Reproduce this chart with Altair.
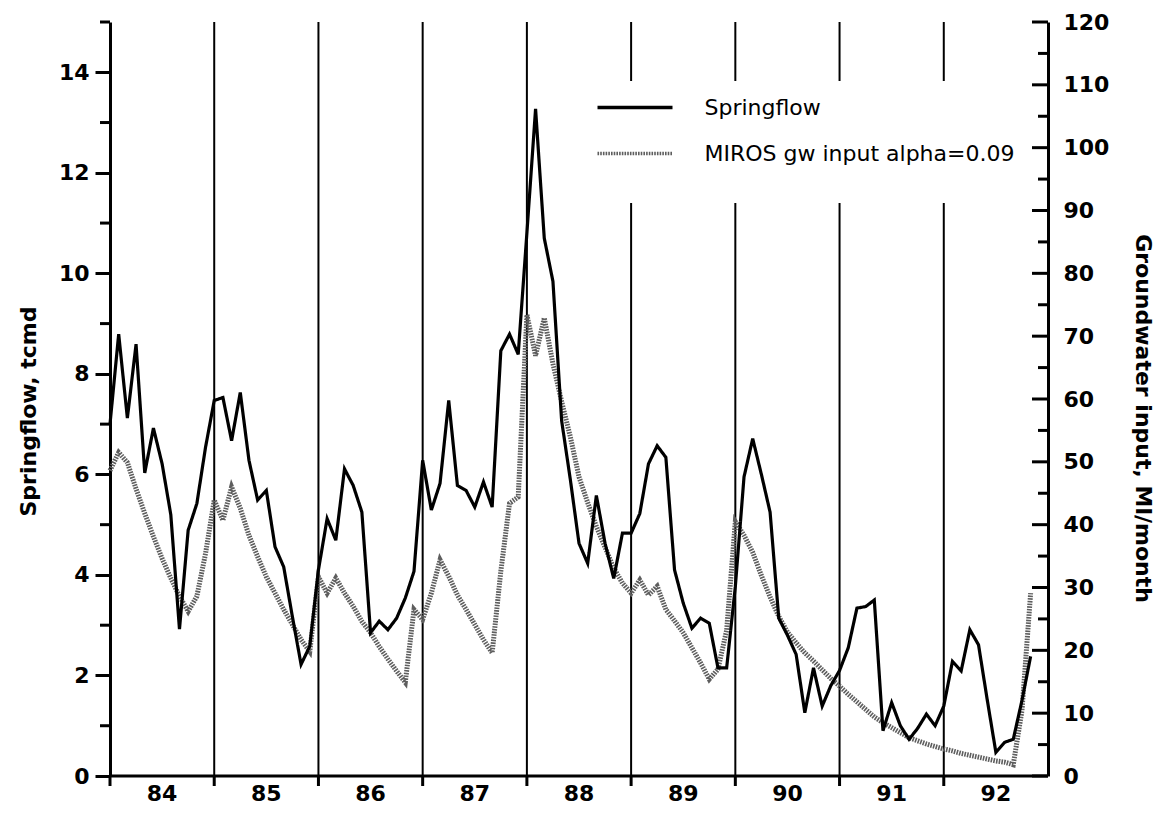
import altair as alt
import pandas as pd

W, H = 938, 754

# ---- data (monthly, Jan 1984 onwards) ----
springflow = [
    7.0, 8.79, 7.12, 8.59, 6.03, 6.92, 6.21, 5.2, 2.92, 4.89, 5.42, 6.54,
    7.47, 7.53, 6.67, 7.63, 6.28, 5.49, 5.68, 4.56, 4.16, 3.17, 2.22, 2.58,
    4.10, 5.12, 4.69, 6.11, 5.78, 5.25, 2.85, 3.08, 2.91, 3.14, 3.54, 4.07,
    6.28, 5.29, 5.82, 7.47, 5.78, 5.68, 5.35, 5.85, 5.35, 8.46, 8.79, 8.39,
    10.8, 13.27, 10.7, 9.84, 7.07, 5.9, 4.63, 4.23, 5.58, 4.63, 3.93, 4.83,
    4.83, 5.22, 6.21, 6.57, 6.34, 4.10, 3.44, 2.94, 3.14, 3.04, 2.15, 2.15,
    3.77, 5.95, 6.71, 6.0, 5.25, 3.14, 2.8, 2.42, 1.26, 2.15, 1.39, 1.8,
    2.1, 2.55, 3.34, 3.37, 3.50, 0.90, 1.46, 1.0, 0.73, 0.95, 1.23, 1.0,
    1.39, 2.28, 2.09, 2.91, 2.61, 1.52, 0.47, 0.67, 0.73, 1.5, 2.38,
]
miros = [
    48.6, 51.5, 49.9, 45.7, 41.8, 38.1, 34.6, 31.5, 28.6, 26.2, 28.6, 35.4,
    43.9, 40.7, 46.0, 42.6, 38.3, 34.9, 31.7, 29.1, 26.5, 24.1, 21.7, 19.8,
    31.7, 29.1, 31.5, 29.1, 27.0, 24.6, 22.8, 20.6, 18.6, 16.7, 14.9, 26.5,
    24.9, 29.1, 34.4, 31.8, 28.8, 26.5, 24.1, 21.7, 19.6, 32.6, 43.4, 44.4,
    73.4, 66.9, 72.9, 65.6, 59.6, 54.0, 47.6, 43.5, 39.7, 36.4, 33.1, 30.7,
    29.1, 31.2, 28.8, 30.2, 26.5, 24.7, 22.8, 20.4, 18.0, 15.4, 17.0, 23.2,
    40.5, 38.3, 35.6, 31.9, 28.5, 25.4, 22.9, 21.2, 19.6, 18.3, 16.9, 15.5,
    14.3, 13.0, 11.8, 10.6, 9.4, 8.5, 7.7, 6.9, 6.1, 5.6, 5.1, 4.7,
    4.3, 4.0, 3.6, 3.3, 3.0, 2.7, 2.4, 2.2, 1.8, 10.4, 29.1,
]
series_names = ["Springflow", "MIROS gw input alpha=0.09"]
year_labels = ["84", "85", "86", "87", "88", "89", "90", "91", "92"]
year_starts = [12 * k for k in range(len(year_labels))]
left_major = [0, 2, 4, 6, 8, 10, 12, 14]
left_minor = [1, 3, 5, 7, 9, 11, 13, 15]
right_major = [0, 10, 20, 30, 40, 50, 60, 70, 80, 90, 100, 110, 120]
right_minor = [5, 15, 25, 35, 45, 55, 65, 75, 85, 95, 105, 115]

df_s = pd.DataFrame({"month": list(range(len(springflow))), "value": springflow,
                     "series": series_names[0]})
df_m = pd.DataFrame({"month": list(range(len(miros))), "value": miros,
                     "series": series_names[1]})
df_years = pd.DataFrame({"m": year_starts, "label": year_labels})

FONT = "DejaVu Sans"

xscale = alt.Scale(domain=[0, 108], nice=False, zero=False)
lscale = alt.Scale(domain=[0, 15], nice=False, zero=True)
rscale = alt.Scale(domain=[0, 120], nice=False, zero=True)

legend = alt.Legend(orient="none", legendX=475, legendY=59,
                    title=".", titleColor="white", titleOrient="bottom",
                    titleFontSize=18, titlePadding=8,
                    fillColor="white", padding=12,
                    symbolType="M-3,0H3", symbolSize=625, symbolStrokeWidth=3.5,
                    symbolOffset=23.5, labelOffset=55, rowPadding=20,
                    labelFont=FONT, labelFontSize=22, labelFontWeight="normal",
                    labelLimit=0, labelColor="black")
color = alt.Color("series:N", scale=alt.Scale(domain=series_names, range=["black", "#5e5e5e"]),
                  legend=legend)
dash = alt.StrokeDash("series:N", scale=alt.Scale(domain=series_names, range=[[1, 0], [1.6, 1.1]]),
                      legend=legend)

# vertical year boundary lines
year_rules = alt.Chart(df_years[df_years.m > 0]).mark_rule(
    color="black", strokeWidth=2).encode(
    x=alt.X("m:Q", scale=xscale, axis=None))

# x-axis tick marks (below the axis) at the year boundaries
x_ticks = alt.Chart(df_years).mark_rule(color="black", strokeWidth=3).encode(
    x=alt.X("m:Q", scale=xscale, axis=None),
    y=alt.value(H), y2=alt.value(H + 10))

# year labels, centred within each year
x_labels = alt.Chart(df_years).transform_calculate(
    mid="datum.m + 6").mark_text(
    font=FONT, fontWeight="bold", fontSize=22, baseline="top", color="black").encode(
    x=alt.X("mid:Q", scale=xscale, axis=None),
    y=alt.value(H + 8),
    text="label:N")

# x-axis line
x_line = alt.Chart(pd.DataFrame({"a": [0], "b": [108]})).mark_rule(
    color="black", strokeWidth=3).encode(
    x=alt.X("a:Q", scale=xscale, axis=None), x2="b:Q",
    y=alt.value(H))

# minor ticks on the left axis (outward)
left_minor_ticks = alt.Chart(pd.DataFrame({"v": left_minor})).mark_rule(
    color="black", strokeWidth=3).encode(
    y=alt.Y("v:Q", scale=lscale, axis=None),
    x=alt.value(-10), x2=alt.value(0))

spring_line = alt.Chart(df_s).mark_line(strokeWidth=3.2).encode(
    x=alt.X("month:Q", scale=xscale, axis=None),
    y=alt.Y("value:Q", scale=lscale,
            axis=alt.Axis(orient="left", values=left_major, tickSize=15, tickWidth=3,
                          domainWidth=3, labelPadding=6, grid=False,
                          title="Springflow, tcmd", titlePadding=18, titleFontSize=22,
                          titleY=389)),
    color=color, strokeDash=dash)

miros_line = alt.Chart(df_m).mark_line(strokeWidth=5).encode(
    x=alt.X("month:Q", scale=xscale, axis=None),
    y=alt.Y("value:Q", scale=rscale,
            axis=alt.Axis(orient="right", values=right_major, ticks=False,
                          domainWidth=3, labelPadding=15, grid=False,
                          title="Groundwater input, Ml/month", titlePadding=22,
                          titleY=396)),
    color=color, strokeDash=dash)

# ticks on the right axis (pointing into the plot)
right_major_ticks = alt.Chart(pd.DataFrame({"v": right_major})).mark_rule(
    color="black", strokeWidth=3).encode(
    y=alt.Y("v:Q", scale=rscale, axis=None),
    x=alt.value(W - 16), x2=alt.value(W))
right_minor_ticks = alt.Chart(pd.DataFrame({"v": right_minor})).mark_rule(
    color="black", strokeWidth=3).encode(
    y=alt.Y("v:Q", scale=rscale, axis=None),
    x=alt.value(W - 10), x2=alt.value(W))

chart = alt.layer(
    year_rules, miros_line, spring_line,
    left_minor_ticks, right_major_ticks, right_minor_ticks,
    x_ticks, x_labels, x_line,
).resolve_scale(
    y="independent"
).properties(
    width=W, height=H,
    padding={"left": 102, "top": 14, "right": 108, "bottom": 31},
    autosize=alt.AutoSizeParams(type="none"),
).configure_view(stroke=None).configure_axis(
    labelFont=FONT, labelFontWeight="bold", labelFontSize=22, labelColor="black",
    titleFont=FONT, titleFontWeight="bold", titleFontSize=22, titleColor="black",
    domainColor="black", tickColor="black",
)

chart.save("out.html", embed_options={"renderer": "svg", "actions": False})
